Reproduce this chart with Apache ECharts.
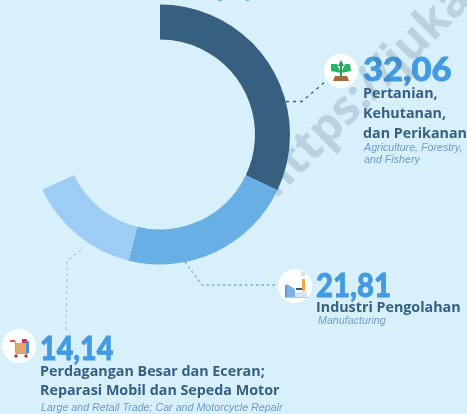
<!DOCTYPE html>
<html><head><meta charset="utf-8">
<style>html,body{margin:0;padding:0;background:#d7f0fc}#c{width:467px;height:414px}</style>
<script src="https://cdn.jsdelivr.net/npm/echarts@6/dist/echarts.min.js"></script>
</head><body><div id="c"></div>
<script>
const categories = ['Pertanian, Kehutanan, dan Perikanan', 'Industri Pengolahan', 'Perdagangan Besar dan Eceran; Reparasi Mobil dan Sepeda Motor', 'Lainnya'];
const shares = [32.06, 21.81, 14.14, 31.99];
const colors = ['#365f80', '#68afe5', '#9dcdf4', 'transparent'];
const valueLabels = ['32,06', '21,81', '14,14'];

const HEAD = 'Open Sans', NUM = 'Lato', SUB = 'Liberation Sans';
const num = (t, x, y, sx) => ({type:'text', x, y, scaleX:sx, style:{text:t, font:`900 33px "${NUM}"`, fill:'#429ae0', stroke:'#429ae0', lineWidth:0.8, textVerticalAlign:'middle'}});
const head = (t, x, y) => ({type:'text', x, y, style:{text:t, font:`700 14.3px "${HEAD}"`, fill:'#365f80', textVerticalAlign:'middle'}});
const sub = (t, x, y) => ({type:'text', x, y, style:{text:t, font:`italic 10.7px "${SUB}"`, fill:'#6f9cc8', textVerticalAlign:'middle'}});
const leader = (pts, stroke, dash) => ({type:'polyline', shape:{points:pts}, style:{stroke, lineWidth:1.3, lineDash:dash, fill:null}});
const disc = (x, y) => ({type:'circle', shape:{cx:x, cy:y, r:17}, style:{fill:'#ffffff'}});
const rect = (x, y, w, h, fill) => ({type:'rect', shape:{x, y, width:w, height:h}, style:{fill}});
const circ = (x, y, r, fill) => ({type:'circle', shape:{cx:x, cy:y, r}, style:{fill}});
const poly = (pts, fill) => ({type:'polygon', shape:{points:pts}, style:{fill}});

const chart = echarts.init(document.getElementById('c'), null, {renderer:'canvas'});
chart.setOption({
  backgroundColor:'#d7f0fc',
  animation:false,
  series:[{
    type:'pie', silent:true, center:[160,134.5], radius:[95,130], startAngle:90, clockwise:true,
    label:{show:false}, labelLine:{show:false},
    data:categories.map((name,i)=>({name, value:shares[i], itemStyle:{color:colors[i]}}))
  }],
  graphic:{elements:[
    rect(218,0,4,1,'#6bb0e6'), rect(246,0,3,1,'#6bb0e6'),
    leader([[286,101.5],[302,101.5],[326,81]], '#365f80', [3,4]),
    leader([[185,262],[202,285],[278,285]], '#68afe5', [2.5,3]),
    leader([[81,250],[67,261],[66,331]], '#9dcdf4', [3,3]),

    disc(341,71),
    poly([[333,81],[349,81],[347,76],[335,76]], '#a8683c'),
    rect(340,66,2,11,'#2f9a4e'),
    poly([[341,73],[331,71],[331,64],[337,64]], '#27b567'),
    poly([[341,73],[351,71],[350,64],[345,64]], '#27b567'),
    poly([[338,66],[341,60],[344,66]], '#1f9e58'),

    disc(295,286),
    rect(285,297,23,1,'#a8d8a0'),
    rect(285,285,3,12,'#5f9bd8'),
    poly([[287,284],[295,289],[295,297],[287,297]], '#7fb2e4'),
    rect(302,279,3,12,'#eda744'),
    rect(295,292,12,5,'#d5e6f2'),
    rect(296,288,6,2,'#2f5f80'),
    circ(303,274,2.5,'#d7e3ee'),

    disc(19,346),
    rect(10,340,5,2,'#e8524a'),
    rect(15,341,1,12,'#a0a8b0'),
    rect(16,343,10,10,'#e0a86c'),
    rect(22,339,5,4,'#e82d55'),
    rect(26,341,3,12,'#4c8fd8'),
    rect(16,353,12,1,'#a0a8b0'),
    circ(16,356,1.7,'#a83a3a'), circ(26,356,1.7,'#a83a3a'),

    num(valueLabels[0], 363, 70, 1.05),
    head('Pertanian,', 363, 94), head('Kehutanan,', 363, 114), head('dan Perikanan', 363, 134),
    sub('Agriculture, Forestry,', 364, 148.5), sub('and Fishery', 364, 160.5),

    num(valueLabels[1], 316, 286, 0.89),
    head('Industri Pengolahan', 316, 308),
    sub('Manufacturing', 318, 321.5),

    num(valueLabels[2], 40, 349, 0.87),
    head('Perdagangan Besar dan Eceran;', 40, 372), head('Reparasi Mobil dan Sepeda Motor', 40, 391),
    sub('Large and Retail Trade; Car and Motorcycle Repair', 41, 408),

    {type:'text', x:266, y:190, rotation:Math.PI/4, style:{text:'https://jukaiknas', font:'700 47px "Open Sans"', fill:'rgba(70,90,110,0.2)', textVerticalAlign:'middle'}, originX:0, originY:0}
  ]}
});
</script></body></html>
